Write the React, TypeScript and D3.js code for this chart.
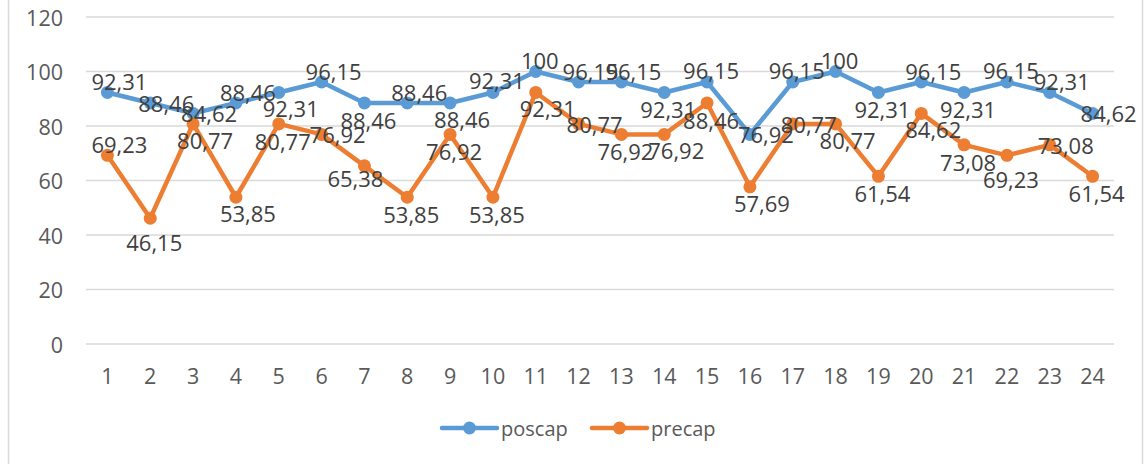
import * as d3 from "d3";

const categories = ["1", "2", "3", "4", "5", "6", "7", "8", "9", "10", "11", "12", "13", "14", "15", "16", "17", "18", "19", "20", "21", "22", "23", "24"];
const poscap = [92.31, 88.46, 84.62, 88.46, 92.31, 96.15, 88.46, 88.46, 88.46, 92.31, 100, 96.15, 96.15, 92.31, 96.15, 76.92, 96.15, 100, 92.31, 96.15, 92.31, 96.15, 92.31, 84.62];
const precap = [69.23, 46.15, 80.77, 53.85, 80.77, 76.92, 65.38, 53.85, 76.92, 53.85, 92.31, 80.77, 76.92, 76.92, 88.46, 57.69, 80.77, 80.77, 61.54, 84.62, 73.08, 69.23, 73.08, 61.54];
const yTicks = [0, 20, 40, 60, 80, 100, 120];

// where excel put each data label (relative to its point)
const poscapLabelPos = ["tr", "r", "r", "tr", "br", "tr", "b", "tr", "br", "t", "t", "tr", "tr", "b", "t", "r", "t", "t", "b", "tr", "b", "t", "tr", "r"];
const precapLabelPos = ["tr", "bb", "br", "br", "b", "r", "bl", "b", "b", "b", "br", "r", "b", "br", "b", "br", "r", "br", "b", "br", "b", "bb", "r", "b"];

const labelOffsets: Record<string, [number, number]> = {
  t: [4, -12],
  tr: [12, -11],
  r: [16, 0],
  br: [12, 16],
  b: [4, 17],
  bb: [4, 24],
  bl: [-9, 12],
};

const W = 1145;
const H = 464;
const FONT = "'Open Sans', 'DejaVu Sans', sans-serif";

const series = [
  { name: "poscap", values: poscap, color: "#5B9BD5", labelPos: poscapLabelPos },
  { name: "precap", values: precap, color: "#ED7D31", labelPos: precapLabelPos },
];

const fmt = (v: number) => String(v).replace(".", ",");

export default function App() {
  const x = d3.scaleBand<string>().domain(categories).range([86, 1114]).padding(0);
  const y = d3.scaleLinear().domain([0, 120]).range([344, 17]);
  const cx = (i: number) => (x(categories[i]) ?? 0) + x.bandwidth() / 2;

  const line = d3
    .line<number>()
    .x((_, i) => cx(i))
    .y((d) => y(d));

  return (
    <svg
      width={W}
      height={H}
      style={{ position: "absolute", left: 0, top: 0, background: "#fff" }}
      fontFamily={FONT}
    >
      <rect x={0} y={0} width={W} height={H} fill="#fff" />
      <line x1={8.5} x2={8.5} y1={0} y2={H} stroke="#D9D9D9" strokeWidth={1.5} />
      <line x1={1142.5} x2={1142.5} y1={0} y2={H} stroke="#D9D9D9" strokeWidth={1.5} />

      {/* gridlines + y labels */}
      {yTicks.map((t) => (
        <g key={t}>
          <line x1={86} x2={1114} y1={y(t)} y2={y(t)} stroke="#D9D9D9" strokeWidth={1.5} />
          <text x={63} y={y(t)} textAnchor="end" dominantBaseline="central" fontSize={21.5} fill="#595959">
            {t}
          </text>
        </g>
      ))}

      {/* x labels */}
      {categories.map((c, i) => (
        <text key={c} x={cx(i)} y={375} textAnchor="middle" dominantBaseline="central" fontSize={21.5} fill="#595959">
          {c}
        </text>
      ))}

      {/* lines and markers */}
      {series.map((s) => (
        <g key={s.name}>
          <path d={line(s.values) ?? ""} fill="none" stroke={s.color} strokeWidth={4.5} strokeLinejoin="round" strokeLinecap="round" />
          {s.values.map((v, i) => (
            <circle key={i} cx={cx(i)} cy={y(v)} r={6.5} fill={s.color} />
          ))}
        </g>
      ))}

      {/* data labels */}
      {series.map((s) =>
        s.values.map((v, i) => {
          const [dx, dy] = labelOffsets[s.labelPos[i]];
          return (
            <text
              key={s.name + i}
              x={cx(i) + dx}
              y={y(v) + dy}
              textAnchor="middle"
              dominantBaseline="central"
              fontSize={22}
              fill="#404040"
            >
              {fmt(v)}
            </text>
          );
        })
      )}

      {/* legend */}
      {series.map((s, k) => {
        const lx = 442 + k * 150;
        return (
          <g key={s.name} transform={`translate(${lx},428)`}>
            <line x1={0} x2={55} y1={0} y2={0} stroke={s.color} strokeWidth={4.5} strokeLinecap="round" />
            <circle cx={27.5} cy={0} r={6.5} fill={s.color} />
            <text x={59} y={0} dominantBaseline="central" fontSize={20} fill="#595959">
              {s.name}
            </text>
          </g>
        );
      })}
    </svg>
  );
}
